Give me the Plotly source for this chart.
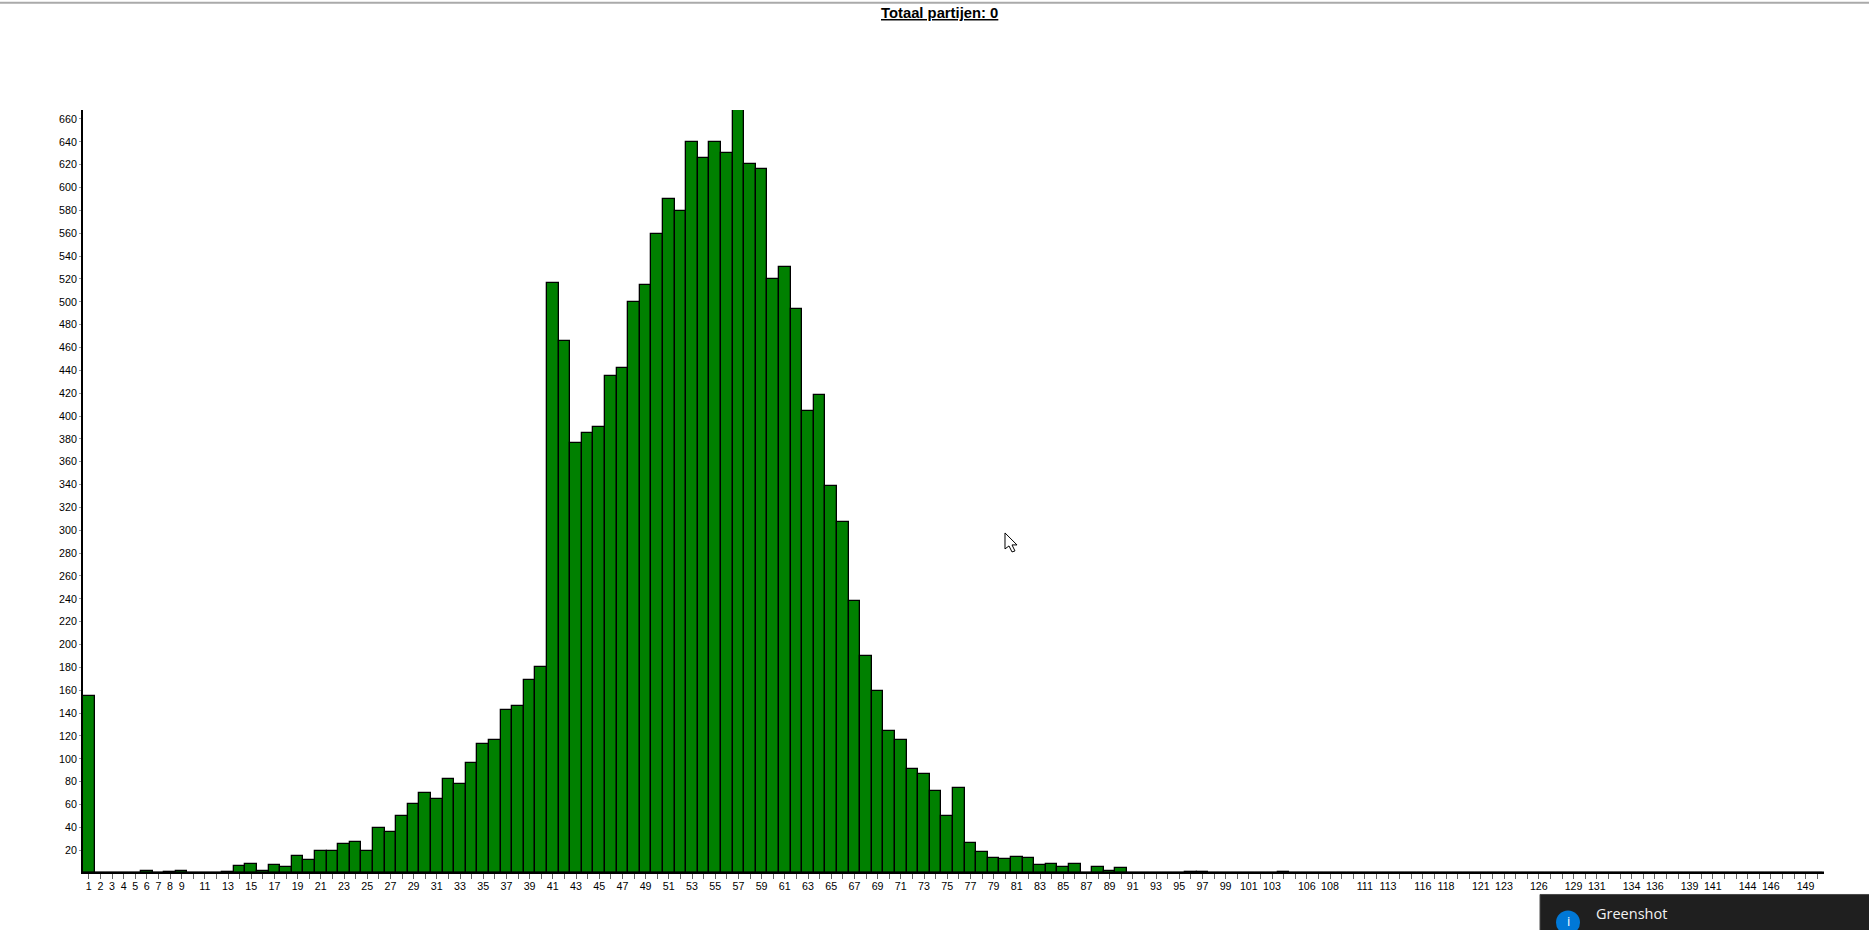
import plotly.graph_objects as go

# Value per category (category 1 .. 150)
head_values = [155, 0, 0, 0, 0, 2, 0, 1, 2, 0, 0, 0, 1, 6, 8, 2, 7, 5, 15, 11,
               19, 19, 25, 27, 19, 39, 36, 50, 60, 70, 65, 82, 78, 96, 113, 116, 143, 146, 169, 180]
peak_values = [516, 466, 376, 385, 390, 435, 442, 500, 515, 559, 590, 579, 640, 626, 640, 630,
               670, 621, 616, 520, 530, 494, 404, 418, 339, 307, 238, 190, 159]
tail_values = [124, 116, 91, 87, 72, 50, 74, 26, 18, 13, 12, 14, 13, 7, 8, 5, 8, 0, 5, 2, 4,
               0, 0, 0, 0, 0, 1, 1, 0, 0, 0, 0, 0, 0, 1]
rest_values = [0] * 46
values = head_values + peak_values + tail_values + rest_values
categories = list(range(1, len(values) + 1))

x_labels = [1, 2, 3, 4, 5, 6, 7, 8, 9] + list(range(11, 104, 2)) + [
    106, 108, 111, 113, 116, 118, 121, 123, 126, 129, 131, 134, 136, 139, 141, 144, 146, 149]
y_ticks = list(range(20, 661, 20))
title_text = "Totaal partijen: 0"
toast_title = "Greenshot"

W, H = 1869, 930
L, R, T, B = 83, 1824, 109.5, 873.5
FONT = "Liberation Sans, Arial, sans-serif"


def px(x):
    return (x - L) / (R - L)


def py(y):
    return (B - y) / (B - T)


fig = go.Figure(go.Bar(
    x=categories, y=values, width=1,
    marker=dict(color="#008000", line=dict(color="black", width=1.3)),
    hoverinfo="x+y",
))

arrow = [(1005, 533), (1005, 549), (1009, 546), (1012, 552), (1015, 551), (1012, 545), (1017, 545)]
arrow_path = "M" + " L".join(f"{px(a):.5f},{py(b):.5f}" for a, b in arrow) + " Z"

fig.update_layout(
    width=W, height=H, autosize=False,
    margin=dict(l=L, r=W - R, t=T, b=H - B, pad=0),
    paper_bgcolor="white", plot_bgcolor="white",
    showlegend=False, bargap=0,
    font=dict(family=FONT, size=10.7, color="black"),
    xaxis=dict(
        range=[0.5, 0.5 + (R - L) / 11.6], tickmode="array",
        tickvals=categories,
        ticktext=[str(c) if c in x_labels else "" for c in categories],
        ticks="outside", ticklen=5, tickwidth=1, tickcolor="#666",
        ticklabelstandoff=-2,
        showline=False, showgrid=False, zeroline=False,
        tickangle=0, automargin=False,
    ),
    yaxis=dict(
        range=[0, (B - T) / 1.144], tickmode="array", tickvals=y_ticks,
        ticktext=[str(v) for v in y_ticks],
        ticks="outside", ticklen=2, tickwidth=1, tickcolor="#999",
        showline=True, linecolor="black", linewidth=2, showgrid=False, zeroline=False,
        automargin=False,
    ),
    shapes=[
        dict(type="rect", xref="paper", yref="paper", x0=px(0), x1=px(W), y0=py(3), y1=py(1),
             fillcolor="#aaaaaa", line_width=0),
        dict(type="rect", xref="paper", yref="paper", x0=px(81), x1=px(1824), y0=py(874.4), y1=py(872),
             fillcolor="black", line_width=0),
        dict(type="path", xref="paper", yref="paper", path=arrow_path,
             fillcolor="white", line=dict(color="black", width=1)),
        dict(type="rect", xref="paper", yref="paper", x0=px(1540), x1=px(W + 5), y0=py(H + 5), y1=py(895),
             fillcolor="#1f1f1f", line=dict(color="#4a4a4a", width=1)),
        dict(type="circle", xref="paper", yref="paper", x0=px(1556), x1=px(1580), y0=py(935), y1=py(911),
             fillcolor="#0078d7", line_width=0),
    ],
    annotations=[
        dict(text=f"<b><u>{title_text}</u></b>", xref="paper", yref="paper", x=px(939), y=py(12),
             showarrow=False, xanchor="center", yanchor="middle",
             font=dict(family=FONT, size=14.8, color="black")),
        dict(text=toast_title, xref="paper", yref="paper", x=px(1594), y=py(914),
             showarrow=False, xanchor="left", yanchor="middle",
             font=dict(family="Open Sans, sans-serif", size=14.5, color="#f2f2f2")),
        dict(text="i", xref="paper", yref="paper", x=px(1568), y=py(921.5), borderpad=0,
             showarrow=False, xanchor="center", yanchor="middle",
             font=dict(family="Open Sans, sans-serif", size=13, color="white")),
    ],
)

fig.write_html(
    "out.html",
    config={"displayModeBar": False},
    post_script="document.body.style.margin='0';document.body.style.overflow='hidden';window.dispatchEvent(new Event('resize'));",
)
